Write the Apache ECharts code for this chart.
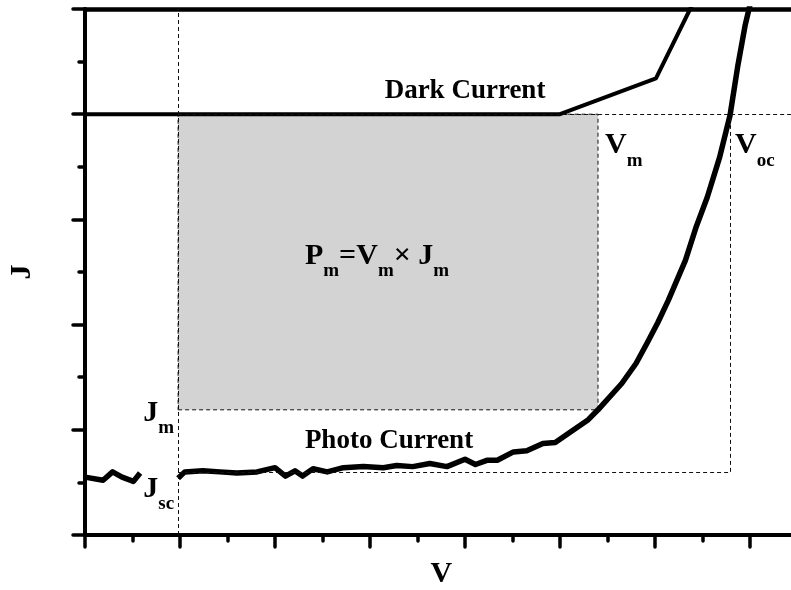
<!DOCTYPE html>
<html>
<head>
<meta charset="utf-8">
<title>J-V</title>
<style>html,body{margin:0;padding:0;background:#fff}#main{width:791px;height:590px}</style>
</head>
<body>
<div id="main"></div>
<script src="https://cdn.jsdelivr.net/npm/echarts@6/dist/echarts.min.js"></script>
<script>
// photo current, wavy, with a gap under the J_sc label ('-' breaks the line)
var photoV = [0, 0.19, 0.29, 0.39, 0.51, 0.58, 0.78, 0.98, 1.05, 1.24, 1.42, 1.60, 1.81, 2.00,
  2.11, 2.21, 2.29, 2.40, 2.55, 2.72, 2.93, 3.14, 3.28, 3.45, 3.63, 3.81, 4.00, 4.11,
  4.23, 4.34, 4.51, 4.65, 4.82, 4.95, 5.11, 5.29, 5.40, 5.56, 5.65, 5.80, 5.92, 6.03,
  6.14, 6.32, 6.43, 6.55, 6.68, 6.79, 6.87, 6.95, 7.00];
var photoJ = [0.55, 0.52, 0.60, 0.55, 0.51, 0.59, '-', 0.54, 0.60, 0.61, 0.60, 0.59, 0.60, 0.64,
  0.56, 0.61, 0.56, 0.63, 0.60, 0.64, 0.65, 0.64, 0.66, 0.65, 0.68, 0.65, 0.72, 0.67,
  0.71, 0.71, 0.79, 0.80, 0.87, 0.88, 0.98, 1.09, 1.19, 1.35, 1.44, 1.63, 1.83, 2.02,
  2.23, 2.61, 2.92, 3.21, 3.59, 3.99, 4.45, 4.85, 5.04];

// dark current
var darkV = [0, 5.0, 6.01, 6.37, 6.47];
var darkJ = [4.0, 4.0, 4.34, 5.0, 5.19];

// characteristic points
var vLeft = 0.98, vM = 5.40, vOC = 6.79;
var jM = 1.19, jSC = 0.60, jTop = 4.0;

var xMax = 7.5, yMax = 5;
var F = '"Liberation Serif", "Times New Roman", serif';

function zip(a, b) {
  var out = [];
  for (var i = 0; i < a.length; i++) out.push([a[i], b[i]]);
  return out;
}

var dash = { color: '#111', width: 1, type: [4, 3] };
var tickStyle = { color: '#000', width: 3.5, cap: 'round' };

var chart = echarts.init(document.getElementById('main'));
chart.setOption({
  animation: false,
  grid: { left: 85, top: 9, height: 526, width: 712.5, outerBoundsMode: 'none', containLabel: false },
  xAxis: [{
    type: 'value', min: 0, max: xMax, interval: 1,
    name: 'V', nameLocation: 'middle', nameGap: 24,
    nameTextStyle: { fontFamily: F, fontWeight: 'bold', fontSize: 30, color: '#000' },
    axisLine: { lineStyle: { color: '#000', width: 4 } },
    axisTick: { length: 12, lineStyle: tickStyle },
    minorTick: { show: true, splitNumber: 2, length: 6, lineStyle: tickStyle },
    axisLabel: { show: false }, splitLine: { show: false }
  }, {
    type: 'value', position: 'top', min: 0, max: xMax,
    axisLine: { lineStyle: { color: '#000', width: 4.5 } },
    axisTick: { show: false }, axisLabel: { show: false }, splitLine: { show: false }
  }],
  yAxis: {
    type: 'value', min: 0, max: yMax, interval: 1,
    name: 'J', nameLocation: 'middle', nameGap: 48,
    nameTextStyle: { fontFamily: F, fontWeight: 'bold', fontSize: 30, color: '#000' },
    axisLine: { lineStyle: { color: '#000', width: 4 } },
    axisTick: { length: 12, lineStyle: tickStyle },
    minorTick: { show: true, splitNumber: 2, length: 6, lineStyle: tickStyle },
    axisLabel: { show: false }, splitLine: { show: false }
  },
  series: [{
    name: 'guides', type: 'line', data: [], z: 1, silent: true,
    markArea: {
      silent: true,
      itemStyle: { color: '#d3d3d3', borderColor: '#111', borderWidth: 1, borderType: [4, 3] },
      data: [[{ coord: [vLeft, jM] }, { coord: [vM, jTop] }]]
    },
    markLine: {
      silent: true, symbol: 'none', label: { show: false }, lineStyle: dash,
      data: [
        [{ coord: [vLeft, 0] }, { coord: [vLeft, yMax] }],
        [{ coord: [vLeft, jTop] }, { coord: [xMax, jTop] }],
        [{ coord: [vOC, jSC] }, { coord: [vOC, jTop] }],
        [{ coord: [vLeft, jSC] }, { coord: [vOC, jSC] }]
      ]
    }
  }, {
    name: 'Dark Current', type: 'line', z: 3, symbol: 'none',
    lineStyle: { color: '#000', width: 4 },
    data: zip(darkV, darkJ)
  }, {
    name: 'Photo Current', type: 'line', z: 3, symbol: 'none', connectNulls: false,
    lineStyle: { color: '#000', width: 5.5, join: 'round' },
    data: zip(photoV, photoJ)
  }]
});

// labels, anchored to data points
function px(v, j) { return chart.convertToPixel({ gridIndex: 0 }, [v, j]); }
var rich = {
  b: { fontFamily: F, fontWeight: 'bold', fontSize: 30, lineHeight: 30, verticalAlign: 'top', fill: '#000' },
  s: { fontFamily: F, fontWeight: 'bold', fontSize: 19, lineHeight: 19, verticalAlign: 'top', padding: [21, 0, 0, 0], fill: '#000' }
};
function sub(text, x, y, align) {
  return { type: 'text', z: 10, style: { text: text, rich: rich, x: x, y: y, align: align, verticalAlign: 'top' } };
}
function plain(text, x, y) {
  return { type: 'text', z: 10, style: { text: text, x: x, y: y, align: 'center', verticalAlign: 'middle',
    fontFamily: F, fontWeight: 'bold', fontSize: 27, fill: '#000' } };
}
var pVm = px(vM, jTop), pVoc = px(vOC, jTop), pJm = px(vLeft, jM), pJsc = px(vLeft, jSC);
var pMid = px((vLeft + vM) / 2, (jM + jTop) / 2);
var pDark = px(4, jTop), pPhoto = px(3.2, jSC);
chart.setOption({
  graphic: [
    plain('Dark Current', pDark[0], pDark[1] - 23),
    plain('Photo Current', pPhoto[0], pPhoto[1] - 31),
    sub('{b|V}{s|m}', pVm[0] + 7, pVm[1] + 16, 'left'),
    sub('{b|V}{s|oc}', pVoc[0] + 5, pVoc[1] + 16, 'left'),
    sub('{b|J}{s|m}', pJm[0] - 4, pJm[1] - 12, 'right'),
    sub('{b|J}{s|sc}', pJsc[0] - 4, pJsc[1] + 2, 'right'),
    sub('{b|P}{s|m}{b|=V}{s|m}{b|× J}{s|m}', pMid[0] - 11, pMid[1] - 21, 'center')
  ]
});
</script>
</body>
</html>
